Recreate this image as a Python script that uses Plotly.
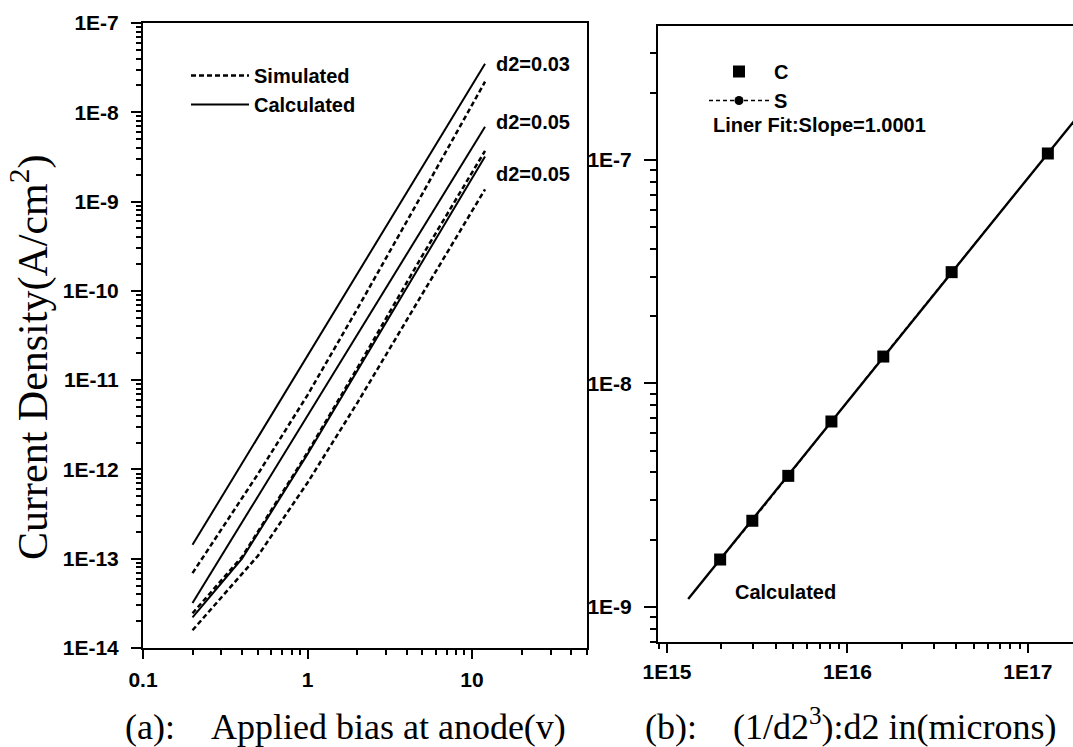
import numpy as np
import plotly.graph_objects as go

# ---------------- data: panel (a) ----------------
bias_a = [0.2, 0.5, 1, 2, 5, 12]
calc_d2_003 = [1.43e-13, 2.3e-12, 1.87e-11, 1.53e-10, 2.45e-9, 3.5e-8]
sim_d2_003 = [6.9e-14, 8.9e-13, 6.8e-12, 6.2e-11, 1.23e-9, 2.2e-8]
calc_d2_005a = [3.2e-14, 5.0e-13, 4.0e-12, 3.2e-11, 5.0e-10, 6.9e-9]
bias_b = [0.2, 0.4, 1, 2, 5, 12]
sim_d2_005a = [2.45e-14, 1.05e-13, 1.55e-12, 1.35e-11, 2.5e-10, 3.7e-9]
calc_d2_005b = [2.2e-14, 1.0e-13, 1.48e-12, 1.26e-11, 2.1e-10, 3.2e-9]
bias_c = [0.2, 0.3, 0.5, 1, 2, 5, 12]
sim_d2_005b = [1.58e-14, 3.7e-14, 1.08e-13, 7.1e-13, 5.5e-12, 9.3e-11, 1.37e-9]
line_labels = ["d2=0.03", "d2=0.05", "d2=0.05"]

# ---------------- data: panel (b) ----------------
inv_d2_cubed = [1.97e15, 2.97e15, 4.7e15, 8.15e15, 1.58e16, 3.78e16, 1.29e17]
current_C = [1.63e-9, 2.43e-9, 3.86e-9, 6.76e-9, 1.32e-8, 3.15e-8, 1.07e-7]
current_S = [1.63e-9, 2.43e-9, 3.86e-9, 6.76e-9, 1.32e-8, 3.15e-8, 1.07e-7]
fit_x = [1.31e15, 2.0e17]
fit_y = [1.085e-9, 1.66e-7]

# tick labels
xa_ticks = [0.1, 1, 10]
xa_text = ["0.1", "1", "10"]
ya_ticks = [1e-14, 1e-13, 1e-12, 1e-11, 1e-10, 1e-9, 1e-8, 1e-7]
ya_text = ["1E-14", "1E-13", "1E-12", "1E-11", "1E-10", "1E-9", "1E-8", "1E-7"]
xb_ticks = [1e15, 1e16, 1e17]
xb_text = ["1E15", "1E16", "1E17"]
yb_ticks = [1e-9, 1e-8, 1e-7]
yb_text = ["1E-9", "1E-8", "1E-7"]

SANS = "Liberation Sans, Arial, sans-serif"
SERIF = "Liberation Serif, Times New Roman, serif"
BLK = "black"

def minor_vals(e0, e1):
    return [m * 10.0 ** e for e in range(e0, e1) for m in range(2, 10)]

fig = go.Figure()

dash_style = dict(color=BLK, width=2.5, dash="5px,3px")
solid_style = dict(color=BLK, width=2)

fig.add_trace(go.Scatter(x=bias_a, y=sim_d2_003, mode="lines", line=dash_style,
                         name="Simulated", legend="legend", xaxis="x", yaxis="y"))
fig.add_trace(go.Scatter(x=bias_a, y=calc_d2_003, mode="lines", line=solid_style,
                         name="Calculated", legend="legend", xaxis="x", yaxis="y"))
fig.add_trace(go.Scatter(x=bias_a, y=calc_d2_005a, mode="lines", line=solid_style,
                         showlegend=False, xaxis="x", yaxis="y"))
fig.add_trace(go.Scatter(x=bias_b, y=sim_d2_005a, mode="lines", line=dash_style,
                         showlegend=False, xaxis="x", yaxis="y"))
fig.add_trace(go.Scatter(x=bias_b, y=calc_d2_005b, mode="lines", line=solid_style,
                         showlegend=False, xaxis="x", yaxis="y"))
fig.add_trace(go.Scatter(x=bias_c, y=sim_d2_005b, mode="lines", line=dash_style,
                         showlegend=False, xaxis="x", yaxis="y"))

# panel b (S drawn first, hidden under the fit line and the C squares)
fig.add_trace(go.Scatter(x=inv_d2_cubed, y=current_S, mode="lines+markers",
                         line=dict(color=BLK, width=1.5, dash="4px,3px"),
                         marker=dict(symbol="circle", size=9, color=BLK),
                         name="S", legend="legend2", legendrank=2, xaxis="x2", yaxis="y2"))
fig.add_trace(go.Scatter(x=fit_x, y=fit_y, mode="lines", line=dict(color=BLK, width=2.4),
                         showlegend=False, xaxis="x2", yaxis="y2"))
fig.add_trace(go.Scatter(x=inv_d2_cubed, y=current_C, mode="markers",
                         marker=dict(symbol="square", size=12, color=BLK),
                         name="C", legend="legend2", legendrank=1, xaxis="x2", yaxis="y2"))

W, H = 1073, 747

TICKFONT = dict(family=SANS, size=21, color=BLK, weight="bold")
axis_common = dict(type="log", showline=True, linecolor=BLK, linewidth=2,
                   showgrid=False, zeroline=False, ticks="outside", tickcolor=BLK,
                   tickwidth=2, tickfont=TICKFONT, tickmode="array", automargin=False)

fig.update_layout(
    width=W, height=H,
    margin=dict(l=0, r=0, t=0, b=0),
    paper_bgcolor="white", plot_bgcolor="white",
    xaxis=dict(axis_common, domain=[143 / W, 587 / W], anchor="y",
               range=[-1, np.log10(50)], tickvals=xa_ticks, ticktext=xa_text,
               ticklen=9, mirror=True, ticklabelstandoff=3,
               minor=dict(tickmode="array", tickvals=minor_vals(-1, 2), ticks="outside",
                          ticklen=5, tickwidth=2, tickcolor=BLK)),
    yaxis=dict(axis_common, domain=[1 - 648 / H, 1 - 23 / H], anchor="x",
               range=[-14, -7], tickvals=ya_ticks, ticktext=ya_text,
               ticklen=10, mirror=True, ticklabelstandoff=8,
               minor=dict(tickmode="array", tickvals=minor_vals(-14, -7), ticks="outside",
                          ticklen=5, tickwidth=2, tickcolor=BLK)),
    xaxis2=dict(axis_common, domain=[658 / W, 1.0], anchor="y2",
                range=[14.95, 17.25], tickvals=xb_ticks, ticktext=xb_text,
                ticklen=9, mirror=True, ticklabelstandoff=1,
                minor=dict(tickmode="array", tickvals=minor_vals(14, 18), ticks="outside",
                           ticklen=5, tickwidth=2, tickcolor=BLK)),
    yaxis2=dict(axis_common, domain=[1 - 642 / H, 1 - 26 / H], anchor="x2",
                range=[-9.157, -6.4], tickvals=yb_ticks, ticktext=yb_text,
                ticklen=12, mirror=False, ticklabelstandoff=8,
                minor=dict(tickmode="array", tickvals=minor_vals(-10, -6), ticks="outside",
                           ticklen=6, tickwidth=2, tickcolor=BLK)),
    legend=dict(x=186 / W, y=1 - 56 / H, xanchor="left", yanchor="top",
                bgcolor="rgba(0,0,0,0)", font=dict(family=SANS, size=20, color=BLK, weight="bold"),
                itemwidth=58, tracegroupgap=0),
    legend2=dict(x=704 / W, y=1 - 52 / H, xanchor="left", yanchor="top",
                 bgcolor="rgba(0,0,0,0)", font=dict(family=SANS, size=20, color=BLK, weight="bold"),
                 itemwidth=60, tracegroupgap=0),
)

ann_font = dict(family=SANS, size=20, color=BLK, weight="bold")
annotations = []
# line labels at ends of calculated curves
ends = [(bias_a[-1], calc_d2_003[-1], 0), (bias_a[-1], calc_d2_005a[-1], 5),
        (bias_b[-1], calc_d2_005b[-1], -18)]
for lab, (ex, ey, ys) in zip(line_labels, ends):
    annotations.append(dict(x=np.log10(ex), y=np.log10(ey), xref="x", yref="y",
                            text=lab, showarrow=False, xanchor="left", yanchor="middle",
                            xshift=9, yshift=ys, font=ann_font))
annotations.append(dict(x=733 / W, y=1 - 592 / H, xref="paper", yref="paper",
                        text="Calculated", showarrow=False, xanchor="left",
                        yanchor="middle", font=ann_font))
annotations.append(dict(x=711 / W, y=1 - 125 / H, xref="paper", yref="paper",
                        text="Liner Fit:Slope=1.0001", showarrow=False, xanchor="left",
                        yanchor="middle", font=ann_font))
# axis titles
annotations.append(dict(x=123 / W, y=0, xref="paper", yref="paper",
                        text="(a):\u00a0\u00a0\u00a0\u00a0Applied bias at anode(v)",
                        showarrow=False, xanchor="left", yanchor="bottom", yshift=-2,
                        font=dict(family=SERIF, size=36, color=BLK)))
annotations.append(dict(x=643 / W, y=0, xref="paper", yref="paper",
                        text="(b):\u00a0\u00a0\u00a0\u00a0(1/d2<sup>3</sup>):d2 in(microns)",
                        showarrow=False, xanchor="left", yanchor="bottom", yshift=-2,
                        font=dict(family=SERIF, size=36, color=BLK)))
annotations.append(dict(x=30 / W, y=1 - 358 / H, xref="paper", yref="paper",
                        text="Current Density(A/cm<sup>2</sup>)", textangle=-90,
                        showarrow=False, xanchor="center", yanchor="middle",
                        font=dict(family=SERIF, size=42, color=BLK)))
fig.update_layout(annotations=annotations)

fig.write_html("out.html")
